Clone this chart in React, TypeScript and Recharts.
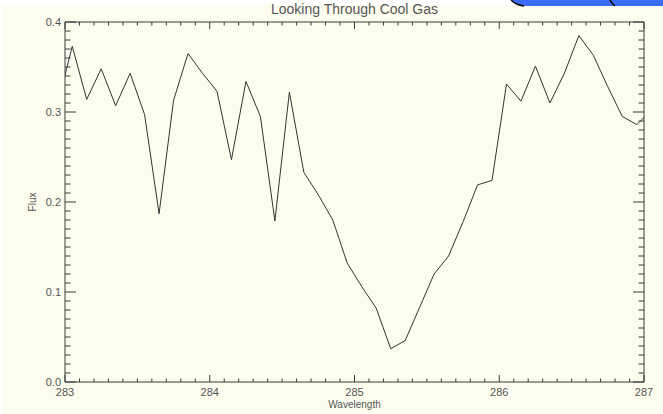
import { LineChart, Line, XAxis, YAxis } from "recharts";

// spectrum samples (last/first one sit just outside the plotted window and get clipped)
const wavelength = [
  282.95, 283.05, 283.15, 283.25, 283.35, 283.45, 283.55, 283.65, 283.75, 283.85,
  283.95, 284.05, 284.15, 284.25, 284.35, 284.45, 284.55, 284.65, 284.75, 284.85,
  284.95, 285.05, 285.15, 285.25, 285.35, 285.45, 285.55, 285.65, 285.75, 285.85,
  285.95, 286.05, 286.15, 286.25, 286.35, 286.45, 286.55, 286.65, 286.75, 286.85,
  286.95, 287.05,
];
const flux = [
  0.309, 0.373, 0.314, 0.348, 0.307, 0.343, 0.297, 0.187, 0.313, 0.365,
  0.343, 0.323, 0.247, 0.334, 0.295, 0.179, 0.322, 0.233, 0.208, 0.18,
  0.132, 0.106, 0.082, 0.037, 0.046, 0.083, 0.12, 0.14, 0.178, 0.219,
  0.224, 0.331, 0.312, 0.351, 0.31, 0.343, 0.385, 0.363, 0.328, 0.295,
  0.286, 0.302,
];

const xMajor = [283, 284, 285, 286, 287];
const xTicks = [
  283, 283.1, 283.2, 283.3, 283.4, 283.5, 283.6, 283.7, 283.8, 283.9,
  284, 284.1, 284.2, 284.3, 284.4, 284.5, 284.6, 284.7, 284.8, 284.9,
  285, 285.1, 285.2, 285.3, 285.4, 285.5, 285.6, 285.7, 285.8, 285.9,
  286, 286.1, 286.2, 286.3, 286.4, 286.5, 286.6, 286.7, 286.8, 286.9, 287,
];
const yMajor = [0, 0.1, 0.2, 0.3, 0.4];
const yMajorLabels = ["0.0", "0.1", "0.2", "0.3", "0.4"];
const yTicks = [
  0, 0.01, 0.02, 0.03, 0.04, 0.05, 0.06, 0.07, 0.08, 0.09,
  0.1, 0.11, 0.12, 0.13, 0.14, 0.15, 0.16, 0.17, 0.18, 0.19,
  0.2, 0.21, 0.22, 0.23, 0.24, 0.25, 0.26, 0.27, 0.28, 0.29,
  0.3, 0.31, 0.32, 0.33, 0.34, 0.35, 0.36, 0.37, 0.38, 0.39, 0.4,
];

const data = wavelength.map((w, i) => ({ w, f: flux[i] }));

const INK = "#3a3a3a";
const TEXT = "#555";
const FONT = "'Liberation Sans', Arial, sans-serif";

const majorIndex = (v: number, list: number[]) => list.findIndex((m) => Math.abs(m - v) < 1e-6);

const BottomTick = ({ x, y, payload }: any) => {
  const major = majorIndex(payload.value, xMajor) >= 0;
  return (
    <g>
      <line x1={x} x2={x} y1={y} y2={y - (major ? 7 : 3.5)} stroke={INK} />
      {major && (
        <text x={x} y={y + 14} textAnchor="middle" fontSize={11} fill={TEXT} fontFamily={FONT}>
          {payload.value}
        </text>
      )}
    </g>
  );
};

const TopTick = ({ x, y, payload }: any) => {
  const major = majorIndex(payload.value, xMajor) >= 0;
  return <line x1={x} x2={x} y1={y} y2={y + (major ? 7 : 3.5)} stroke={INK} />;
};

const LeftTick = ({ x, y, payload }: any) => {
  const idx = majorIndex(payload.value, yMajor);
  return (
    <g>
      <line x1={x} x2={x + (idx >= 0 ? 11 : 5.5)} y1={y} y2={y} stroke={INK} />
      {idx >= 0 && (
        <text x={x - 4} y={y + 4} textAnchor="end" fontSize={11} fill={TEXT} fontFamily={FONT}>
          {yMajorLabels[idx]}
        </text>
      )}
    </g>
  );
};

const RightTick = ({ x, y, payload }: any) => {
  const major = majorIndex(payload.value, yMajor) >= 0;
  return <line x1={x} x2={x - (major ? 11 : 5.5)} y1={y} y2={y} stroke={INK} />;
};

const TitleLabel = ({ viewBox }: any) => (
  <text x={viewBox.x + viewBox.width / 2} y={viewBox.y - 7} textAnchor="middle" fontSize={14} fill={TEXT} fontFamily={FONT}>
    Looking Through Cool Gas
  </text>
);

const XLabel = ({ viewBox }: any) => (
  <text x={viewBox.x + viewBox.width / 2} y={viewBox.y + 26} textAnchor="middle" fontSize={10} fill={TEXT} fontFamily={FONT}>
    Wavelength
  </text>
);

const YLabel = ({ viewBox }: any) => {
  const cx = viewBox.x - 28;
  const cy = viewBox.y + viewBox.height / 2;
  return (
    <text x={cx} y={cy} transform={`rotate(-90 ${cx} ${cy})`} textAnchor="middle" fontSize={10} fill={TEXT} fontFamily={FONT}>
      Flux
    </text>
  );
};

export default function App() {
  return (
    <div style={{ position: "fixed", left: 0, top: 0, width: 663, height: 414, background: "#fff", overflow: "hidden" }}>
      <div style={{ position: "absolute", left: 3, top: 5, right: 0, bottom: 0, background: "#fdfdef" }} />
      <svg width={663} height={8} style={{ position: "absolute", left: 0, top: 0 }}>
        <path d="M511 0 Q516 5 524 6 L663 6 L663 0 Z" fill="#3b6cf5" />
        <path d="M511 0 Q516 5 524 6" fill="none" stroke="#000" strokeWidth={1.5} />
        <path d="M610 0 Q612 4 615 6" fill="none" stroke="#000" strokeWidth={1.5} />
      </svg>
      <div style={{ position: "absolute", left: 0, top: 0 }}>
        <LineChart width={663} height={414} data={data} margin={{ top: 21, right: 18, bottom: 31, left: 64 }}>
          <XAxis
            dataKey="w"
            type="number"
            domain={[283, 287]}
            allowDataOverflow
            ticks={xTicks}
            interval={0}
            height={1}
            tickSize={0}
            tickMargin={0}
            tickLine={false}
            axisLine={{ stroke: INK }}
            tick={<BottomTick />}
            label={<XLabel />}
          />
          <XAxis
            xAxisId="top"
            orientation="top"
            dataKey="w"
            type="number"
            domain={[283, 287]}
            allowDataOverflow
            ticks={xTicks}
            interval={0}
            height={1}
            tickSize={0}
            tickMargin={0}
            tickLine={false}
            axisLine={{ stroke: INK }}
            tick={<TopTick />}
            label={<TitleLabel />}
          />
          <YAxis
            type="number"
            domain={[0, 0.4]}
            allowDataOverflow
            ticks={yTicks}
            interval={0}
            width={1}
            tickSize={0}
            tickMargin={0}
            tickLine={false}
            axisLine={{ stroke: INK }}
            tick={<LeftTick />}
            label={<YLabel />}
          />
          <YAxis
            yAxisId="right"
            orientation="right"
            type="number"
            domain={[0, 0.4]}
            allowDataOverflow
            ticks={yTicks}
            interval={0}
            width={1}
            tickSize={0}
            tickMargin={0}
            tickLine={false}
            axisLine={{ stroke: INK }}
            tick={<RightTick />}
          />
          <Line dataKey="f" type="linear" stroke="#333" strokeWidth={1} dot={false} isAnimationActive={false} />
        </LineChart>
      </div>
    </div>
  );
}
